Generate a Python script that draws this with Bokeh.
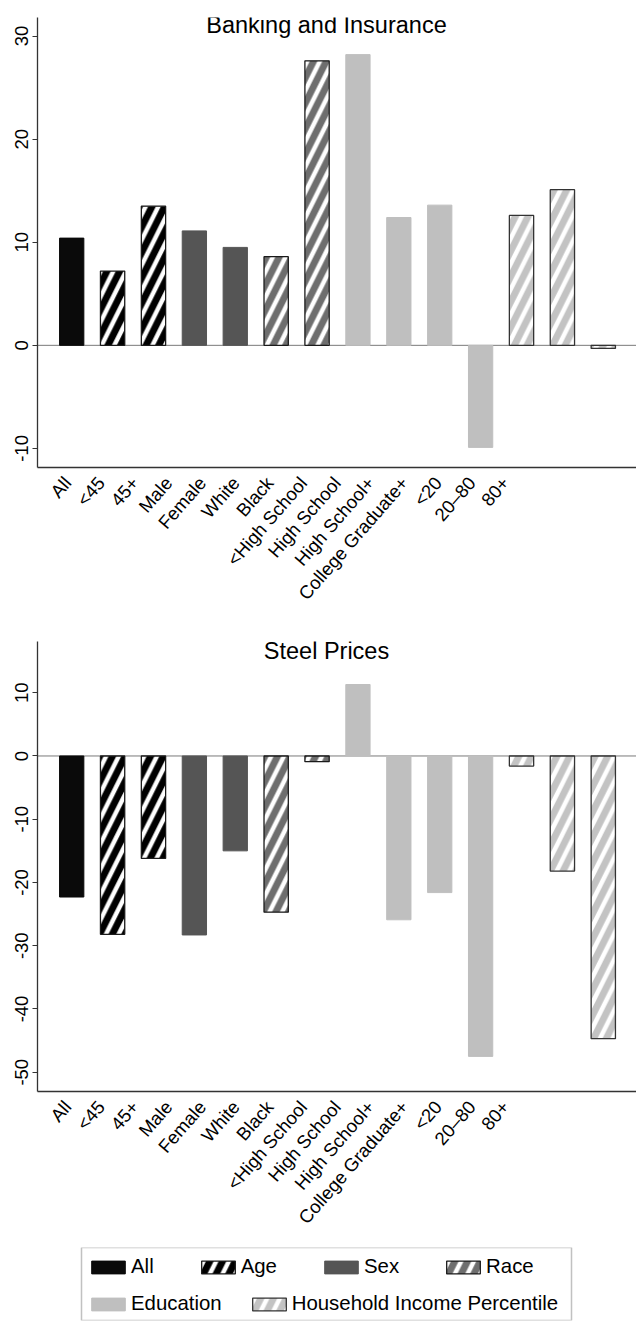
from bokeh.plotting import figure
from bokeh.models import (Range1d, LinearAxis, FixedTicker, Span, Label, Legend,
                          LegendItem, ColumnDataSource, BoxAnnotation)
from bokeh.layouts import column
from bokeh.embed import file_html
from bokeh.resources import INLINE

# ---------------- data ----------------
categories = ["All", "<45", "45+", "Male", "Female", "White", "Black",
              "<High School", "High School", "High School+", "College Graduate+",
              "<20", "20\u201380", "80+"]
groups = ["All", "Age", "Age", "Sex", "Sex", "Race", "Race",
          "Education", "Education", "Education", "Education",
          "Income", "Income", "Income"]
banking = [10.4, 7.2, 13.5, 11.1, 9.5, 8.6, 27.6,
           28.2, 12.4, 13.6, -9.9, 12.6, 15.1, -0.3]
steel = [-22.3, -28.2, -16.2, -28.3, -15.0, -24.7, -0.9,
         11.3, -25.9, -21.6, -47.5, -1.6, -18.2, -44.7]
banking_ticks = [-10, 0, 10, 20, 30]
steel_ticks = [-50, -40, -30, -20, -10, 0, 10]
group_order = ["All", "Age", "Sex", "Race", "Education", "Income"]
legend_labels = ["All", "Age", "Sex", "Race", "Education", "Household Income Percentile"]

# ---------------- styles ----------------
FONT = "Liberation Sans"
HATCH = dict(hatch_pattern="/", hatch_color="white", hatch_weight=4.5, hatch_scale=25.4)
styles = {
    "All": dict(fill_color="#0a0a0a", line_color="#0a0a0a", line_width=1),
    "Age": dict(fill_color="#000000", line_color="#1a1a1a", line_width=1.3, **HATCH),
    "Sex": dict(fill_color="#555555", line_color="#555555", line_width=1),
    "Race": dict(fill_color="#6e6e6e", line_color="#1a1a1a", line_width=1.3, **HATCH),
    "Education": dict(fill_color="#bfbfbf", line_color="#bfbfbf", line_width=1),
    "Income": dict(fill_color="#c3c3c3", line_color="#333333", line_width=1.3, **HATCH),
}

xpos = list(range(1, len(categories) + 1))


def group_source(values, g):
    idx = [i for i, gg in enumerate(groups) if gg == g]
    return ColumnDataSource(dict(x=[xpos[i] for i in idx],
                                 top=[values[i] for i in idx]))


def make_chart(title, values, ticks, ylo, yhi, top_border, bottom_border, title_y):
    p = figure(width=636, height=top_border + 450 + bottom_border,
               x_range=Range1d(0.1636, 14.812), y_range=Range1d(ylo, yhi),
               x_axis_location=None, y_axis_location=None,
               toolbar_location=None, output_backend="svg",
               min_border_left=37, min_border_right=0,
               min_border_top=top_border, min_border_bottom=bottom_border)
    p.outline_line_color = None
    p.xgrid.visible = False
    p.ygrid.visible = False
    p.background_fill_color = "white"
    p.border_fill_color = "white"

    p.add_layout(Span(location=0, dimension="width", line_color="#7a7a7a",
                      line_width=1, level="underlay"))

    for g in group_order:
        p.vbar(x="x", top="top", bottom=0, width=0.594,
               source=group_source(values, g), **styles[g])

    yaxis = LinearAxis(ticker=FixedTicker(ticks=ticks),
                       major_label_overrides={t: str(t) for t in ticks},
                       major_label_orientation="vertical",
                       major_tick_out=5, major_tick_in=0,
                       major_tick_line_color="#333333",
                       minor_tick_line_color=None,
                       axis_line_color="#333333", axis_line_width=1.3,
                       major_label_text_font=FONT,
                       major_label_text_font_size="18.5px",
                       major_label_text_color="black",
                       major_label_standoff=4)
    p.add_layout(yaxis, "left")

    p.extra_x_ranges = {"lab": Range1d(0.1095, 17.888)}
    xaxis = LinearAxis(x_range_name="lab",
                       ticker=FixedTicker(ticks=xpos),
                       major_label_overrides={x: c for x, c in zip(xpos, categories)},
                       major_label_orientation=0.855,
                       major_tick_line_color=None, minor_tick_line_color=None,
                       axis_line_color="#333333", axis_line_width=1.3,
                       major_label_text_font=FONT,
                       major_label_text_font_size="18.5px",
                       major_label_text_color="black",
                       major_label_standoff=6)
    p.add_layout(xaxis, "below")

    p.add_layout(Label(x=289, y=title_y, x_units="screen", y_units="screen",
                       text=title, text_align="center", text_baseline="alphabetic",
                       text_font=FONT, text_font_size="23.5px", text_color="black"))
    return p


p1 = make_chart("Banking and Insurance", banking, banking_ticks, -11.85, 31.8,
                17, 156, 443)
p2 = make_chart("Steel Prices", steel, steel_ticks, -53.05, 18.1,
                18, 146, 441)

# ---------------- legend ----------------
pl = figure(width=636, height=86, x_range=Range1d(0.1636, 14.812),
            y_range=Range1d(-53.05, 18.1),
            x_axis_location=None, y_axis_location=None,
            toolbar_location=None, output_backend="svg",
            min_border_left=37, min_border_right=0,
            min_border_top=10, min_border_bottom=3)
pl.outline_line_color = None
pl.xgrid.visible = False
pl.ygrid.visible = False

leg_r = {}
for g in group_order:
    leg_r[g] = pl.vbar(x="x", top="top", bottom=0, width=0.594,
                       source=group_source(steel, g), visible=False, **styles[g])

pl.add_layout(BoxAnnotation(left=44, right=534, bottom=0, top=73,
                            left_units="screen", right_units="screen",
                            bottom_units="screen", top_units="screen",
                            fill_alpha=0, line_color="#333333", line_width=1.5))

common = dict(orientation="horizontal", glyph_width=42, glyph_height=16,
              label_standoff=2, padding=0, margin=0, border_line_alpha=0,
              background_fill_alpha=0, label_text_font=FONT,
              label_text_font_size="20.4px", label_text_color="black")
row1 = Legend(items=[LegendItem(label=legend_labels[i], renderers=[leg_r[g]])
                     for i, g in enumerate(group_order[:4])],
              location=(50, 42), spacing=43, **common)
row2 = Legend(items=[LegendItem(label=legend_labels[i + 4], renderers=[leg_r[g]])
                     for i, g in enumerate(group_order[4:])],
              location=(50, 5), spacing=26, **common)
pl.add_layout(row1)
pl.add_layout(row2)

layout = column(p1, p2, pl, spacing=0)
open("out.html", "w").write(file_html(layout, INLINE))
